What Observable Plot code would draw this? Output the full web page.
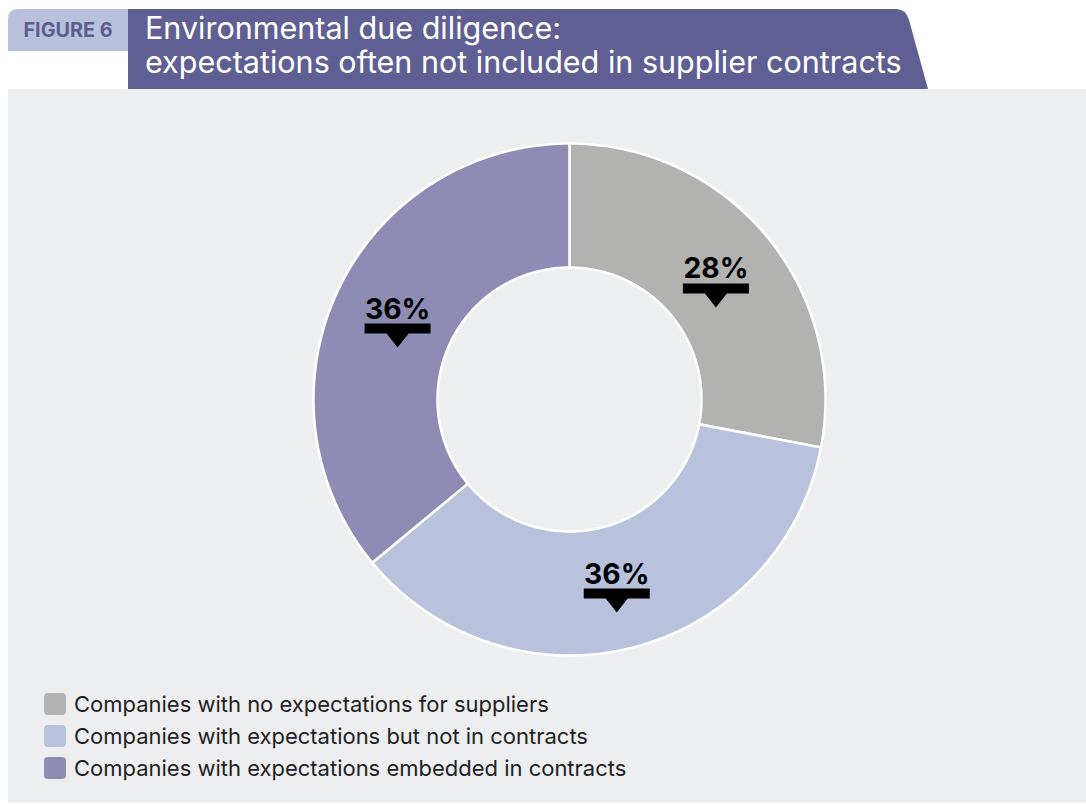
<!DOCTYPE html>
<html>
<head>
<meta charset="utf-8">
<script src="https://cdn.jsdelivr.net/npm/d3@7"></script>
<script src="https://cdn.jsdelivr.net/npm/@observablehq/plot@0.6"></script>
<style>
  html, body { margin: 0; padding: 0; background: #ffffff; }
  #wrap { position: relative; width: 1086px; height: 805px; overflow: hidden; font-family: Inter, "Open Sans", sans-serif; }
  #panel { position: absolute; left: 8px; top: 89px; width: 1078px; height: 714px; background: #edeef0; }
  #hdr { position: absolute; left: 0; top: 0; }
  #figlabel { position: absolute; left: 8px; top: 9px; width: 120px; height: 42px; display: flex; align-items: center; justify-content: center; color: #5c5c8f; font-weight: 700; }
  .tline { position: absolute; left: 145px; color: #ffffff; white-space: nowrap; line-height: 1; }
  #chart { position: absolute; left: 269px; top: 99px; }
  .leg { position: absolute; left: 44px; display: flex; align-items: center; white-space: nowrap; color: #222222; }
  .sw { width: 22px; height: 22px; border-radius: 4px; margin-right: 8px; flex: none; }
</style>
</head>
<body>
<div id="wrap">
  <div id="panel"></div>
  <svg id="hdr" width="1086" height="90">
    <path d="M8,51 V19 Q8,9 18,9 H128 V51 Z" fill="#b7c1dc"></path>
    <path d="M128,9 H896 Q906,9 909,20 L928,89 H128 Z" fill="#5f5f93"></path>
  </svg>
  <div id="figlabel">FIGURE 6</div>
  <div class="tline" id="t1">Environmental due diligence:</div>
  <div class="tline" id="t2">expectations often not included in supplier contracts</div>
  <div id="chart"></div>
  <div id="legend"></div>
</div>
<script>
// ---- data ----
const categories = [
  "Companies with no expectations for suppliers",
  "Companies with expectations but not in contracts",
  "Companies with expectations embedded in contracts"
];
const values = [28, 36, 36];
const valueLabels = ["28%", "36%", "36%"];
const colors = ["#b2b2b0", "#b8c2dc", "#8e8cb5"];
const titleLines = ["Environmental due diligence:", "expectations often not included in supplier contracts"];
const figureLabel = "FIGURE 6";

// ---- font fitting helper ----
const ctx = document.createElement("canvas").getContext("2d");
function fitSize(text, weight, family, target) {
  ctx.font = `${weight} 100px ${family}`;
  return 100 * target / ctx.measureText(text).width;
}
const FAM = 'Inter, "Open Sans", sans-serif';

// header text
const t1 = document.getElementById("t1"), t2 = document.getElementById("t2");
t1.textContent = titleLines[0]; t2.textContent = titleLines[1];
const tSize = fitSize(titleLines[1], 400, FAM, 757);
[t1, t2].forEach(el => el.style.fontSize = tSize + "px");
t1.style.top = (39 - tSize * 0.865) + "px";
t2.style.top = (73 - tSize * 0.865) + "px";
const fl = document.getElementById("figlabel");
fl.textContent = figureLabel;
fl.style.fontSize = fitSize(figureLabel, 700, FAM, 89) + "px";

// ---- donut geometry ----
const total = d3.sum(values);
const R0 = 132, R1 = 256, RL = 190;
const slices = [];
let cum = 0;
categories.forEach((c, i) => {
  const a0 = cum / total * 2 * Math.PI;
  cum += values[i];
  const a1 = cum / total * 2 * Math.PI;
  const n = Math.max(8, Math.ceil((a1 - a0) / (Math.PI / 360)));
  const pts = [];
  for (let k = 0; k <= n; k++) {
    const a = a0 + (a1 - a0) * k / n;
    pts.push({cat: c, x: R1 * Math.sin(a), y: -R1 * Math.cos(a)});
  }
  for (let k = n; k >= 0; k--) {
    const a = a0 + (a1 - a0) * k / n;
    pts.push({cat: c, x: R0 * Math.sin(a), y: -R0 * Math.cos(a)});
  }
  slices.push(...pts);
});

// label anchors at mid-angle
let c2 = 0;
const labelData = categories.map((c, i) => {
  const mid = (c2 + values[i] / 2) / total * 2 * Math.PI;
  c2 += values[i];
  return {cat: c, label: valueLabels[i], cx: RL * Math.sin(mid), cy: -RL * Math.cos(mid) + 4};
});
const pointerPts = [];
labelData.forEach((d, i) => {
  const {cx, cy} = d;
  [[-33, 1], [33, 1], [33, 11], [11, 11], [0, 25], [-11, 11], [-33, 11]]
    .forEach(([dx, dy]) => pointerPts.push({id: i, x: cx + dx, y: cy + dy}));
});
const pctSize = fitSize("28%", 700, FAM, 65);

const chart = Plot.plot({
  width: 600,
  height: 600,
  margin: 0,
  style: {background: "transparent", overflow: "visible"},
  x: {domain: [-300, 300], range: [0, 600], axis: null},
  y: {domain: [-300, 300], range: [0, 600], axis: null},
  color: {domain: categories, range: colors},
  marks: [
    Plot.line(slices, {x: "x", y: "y", z: "cat", fill: "cat", stroke: "#ffffff", strokeWidth: 2.5, curve: "linear-closed"}),
    Plot.text(labelData, {x: "cx", y: d => d.cy - 4, text: "label", lineAnchor: "bottom", textAnchor: "middle",
      fontSize: pctSize, fontWeight: 700, fill: "#000000", fontFamily: FAM}),
    Plot.line(pointerPts, {x: "x", y: "y", z: "id", fill: "#000000", stroke: "none", curve: "linear-closed"})
  ]
});
document.getElementById("chart").appendChild(chart);

// ---- legend ----
const legSize = fitSize(categories[0], 400, FAM, 475);
const leg = document.getElementById("legend");
categories.forEach((c, i) => {
  const row = document.createElement("div");
  row.className = "leg";
  row.style.top = (693 + i * 32) + "px";
  row.style.fontSize = legSize + "px";
  row.style.height = "22px";
  row.innerHTML = `<span class="sw" style="background:${colors[i]}"></span><span>${c}</span>`;
  leg.appendChild(row);
});
</script>
</body>
</html>
